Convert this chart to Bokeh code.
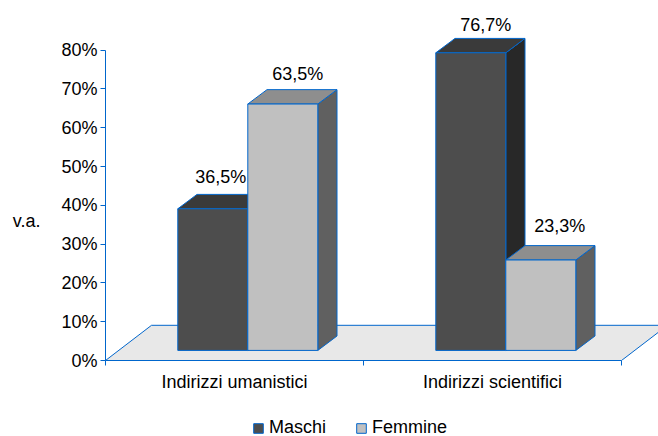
from bokeh.plotting import figure
from bokeh.layouts import column
from bokeh.models import FixedTicker, Range1d, Legend, LegendItem, LinearAxis
from bokeh.core.properties import value
from bokeh.embed import file_html
from bokeh.resources import INLINE

categories = ["Indirizzi umanistici", "Indirizzi scientifici"]
series = ["Maschi", "Femmine"]
maschi = [36.5, 76.7]
femmine = [63.5, 23.3]
maschi_labels = ["36,5%", "76,7%"]
femmine_labels = ["63,5%", "23,3%"]
y_ticks = [0, 10, 20, 30, 40, 50, 60, 70, 80]
y_tick_labels = ["0%", "10%", "20%", "30%", "40%", "50%", "60%", "70%", "80%"]

FONT = "Liberation Sans"
FS = "18px"
BLUE = "#0066CC"
PX_X = 258.0      # pixels per category
PX_Y = 3.88       # pixels per percentage point
DX = 19.2 / PX_X  # bar depth
DY = 14.4 / PX_Y
BASE = 2.6        # bar foot above the axis floor line
BW = 70.0 / PX_X
X0 = 72.3 / PX_X
FDX = 46.0 / PX_X
FDY = 35.2 / PX_Y

p = figure(width=658, height=400, output_backend="svg", toolbar_location=None,
           x_range=Range1d(0, 553 / PX_X), y_range=Range1d(0, 360 / PX_Y),
           min_border_left=105, min_border_right=0, min_border_top=0, min_border_bottom=40)
p.outline_line_color = None
p.grid.visible = False
p.background_fill_color = "white"

# floor
p.patch([0, 2, 2 + FDX, FDX], [0, 0, FDY, FDY], fill_color="#E8E8E8", line_color=BLUE, line_width=1)


def box(left, val, front, top, side):
    r = left + BW
    t = BASE + val
    p.patch([r, r + DX, r + DX, r], [BASE, BASE + DY, t + DY, t], fill_color=side, line_color=BLUE, line_width=1)
    p.patch([left, left + DX, r + DX, r], [t, t + DY, t + DY, t], fill_color=top, line_color=BLUE, line_width=1)


lm = [i + X0 for i in range(2)]
lf = [i + X0 + BW for i in range(2)]
for i in range(2):
    box(lm[i], maschi[i], "#4D4D4D", "#3A3A3A", "#282828")
    p.quad(left=[lm[i]], right=[lm[i] + BW], bottom=[BASE], top=[BASE + maschi[i]],
           fill_color="#4D4D4D", line_color=BLUE, line_width=1)
    box(lf[i], femmine[i], "#C0C0C0", "#8E8E8E", "#606060")
    p.quad(left=[lf[i]], right=[lf[i] + BW], bottom=[BASE], top=[BASE + femmine[i]],
           fill_color="#C0C0C0", line_color=BLUE, line_width=1)

# value labels
m_off_x = [8 / PX_X, 15 / PX_X]
m_off_y = [32 / PX_Y, 28 / PX_Y]
f_off_x = [15 / PX_X, 19 / PX_X]
f_off_y = [30 / PX_Y, 34 / PX_Y]
for i in range(2):
    p.text([lm[i] + BW / 2 + m_off_x[i]], [BASE + maschi[i] + m_off_y[i]], text=[maschi_labels[i]],
           text_align="center", text_baseline="middle", text_font=value(FONT), text_font_size=FS, text_color="black")
    p.text([lf[i] + BW / 2 + f_off_x[i]], [BASE + femmine[i] + f_off_y[i]], text=[femmine_labels[i]],
           text_align="center", text_baseline="middle", text_font=value(FONT), text_font_size=FS, text_color="black")

# axes
yax = p.yaxis[0]
yax.ticker = FixedTicker(ticks=y_ticks)
yax.major_label_overrides = dict(zip(y_ticks, y_tick_labels))
yax.bounds = (0, 80)
yax.axis_line_color = BLUE
yax.major_tick_line_color = BLUE
yax.minor_tick_line_color = None
yax.major_tick_out = 5
yax.major_tick_in = 0
yax.major_label_standoff = 3
yax.major_label_text_font = FONT
yax.major_label_text_font_size = FS
yax.major_label_text_color = "black"

xax = p.xaxis[0]
xax.ticker = FixedTicker(ticks=[0.5, 1.5], minor_ticks=[0, 1, 2])
xax.major_label_overrides = {0.5: categories[0], 1.5: categories[1]}
xax.bounds = (0, 2)
xax.axis_line_color = BLUE
xax.major_tick_line_color = None
xax.minor_tick_line_color = BLUE
xax.minor_tick_out = 5
xax.minor_tick_in = 0
xax.major_tick_out = 0
xax.major_tick_in = 0
xax.major_label_standoff = 6
xax.major_label_text_font = FONT
xax.major_label_text_font_size = FS
xax.major_label_text_color = "black"

# an axis with no line or ticks, only to carry the "v.a." caption
cap = LinearAxis(ticker=FixedTicker(ticks=[]), axis_line_color=None,
                 major_tick_line_color=None, minor_tick_line_color=None,
                 major_label_text_font_size="0px", major_tick_out=0, major_tick_in=0,
                 major_label_standoff=0,
                 axis_label="\n\n\n\nv.a.", axis_label_orientation="horizontal", axis_label_standoff=18,
                 axis_label_text_font=FONT, axis_label_text_font_size=FS, axis_label_text_line_height=1.02,
                 axis_label_text_font_style="normal", axis_label_text_color="black")
p.add_layout(cap, "left")

# legend strip
q = figure(width=658, height=36, output_backend="svg", toolbar_location=None,
           x_axis_location=None, y_axis_location=None,
           x_range=Range1d(0, 1), y_range=Range1d(0, 1),
           min_border_left=0, min_border_right=0, min_border_top=0, min_border_bottom=0)
q.outline_line_color = None
q.grid.visible = False
rm = q.quad(left=[2], right=[3], bottom=[2], top=[3], fill_color="#4D4D4D", line_color=BLUE, line_width=1)
rf = q.quad(left=[2], right=[3], bottom=[2], top=[3], fill_color="#C0C0C0", line_color=BLUE, line_width=1)
leg = Legend(items=[LegendItem(label=series[0], renderers=[rm]), LegendItem(label=series[1], renderers=[rf])],
             orientation="horizontal", location=(147, -2), padding=0, margin=0, spacing=29,
             glyph_width=12, glyph_height=12, label_standoff=5, border_line_color=None,
             background_fill_alpha=0, label_text_font=FONT, label_text_font_size=FS, label_text_color="black",
             label_height=12)
q.add_layout(leg, "center")

open("out.html", "w").write(file_html(column(p, q, spacing=0), INLINE))
